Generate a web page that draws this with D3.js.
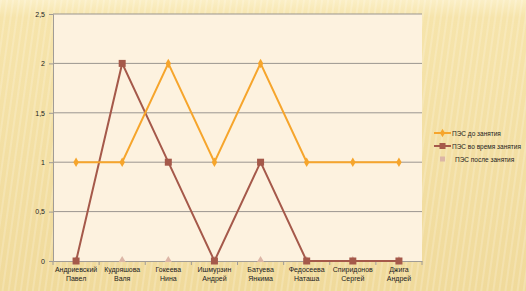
<!DOCTYPE html>
<html>
<head>
<meta charset="utf-8">
<script src="https://cdn.jsdelivr.net/npm/d3@7"></script>
<style>
  body { margin: 0; }
  svg { display: block; }
</style>
</head>
<body>
<svg id="canvas"></svg>
<script>
// chart data
const names = [
  ["Андриевский", "Павел"], ["Кудряшова", "Валя"], ["Гокеева", "Нина"],
  ["Ишмурзин", "Андрей"], ["Батуева", "Янкима"], ["Федосеева", "Наташа"],
  ["Спиридонов", "Сергей"], ["Джига", "Андрей"]
]
const before = [1, 1, 2, 1, 2, 1, 1, 1]
const during = [0, 2, 1, 0, 1, 0, 0, 0]
const after = [0, 0, 0, 0, 0, 0, 0, 0]
const yTicks = [0, 0.5, 1, 1.5, 2, 2.5]
const seriesNames = ["ПЭС до занятия", "ПЭС во время занятия", "ПЭС после занятия"]

const width = 526
const height = 291
const plot = { left: 53, right: 422, top: 14, bottom: 261 }

let canvas = d3.select("#canvas")
    .attr('width', width)
    .attr('height', height)
    .style('font-family', 'Liberation Sans, Arial, sans-serif')

// background
let defs = canvas.append('defs')
let bg = defs.append('linearGradient').attr('id', 'bg')
    .attr('x1', 0).attr('y1', 0).attr('x2', 0).attr('y2', 1)
bg.append('stop').attr('offset', 0).attr('stop-color', '#fbefc6')
bg.append('stop').attr('offset', 0.06).attr('stop-color', '#f6e4ab')
bg.append('stop').attr('offset', 1).attr('stop-color', '#f0da9b')
let stripes = defs.append('pattern').attr('id', 'stripes')
    .attr('width', 6).attr('height', 6).attr('patternUnits', 'userSpaceOnUse')
    .attr('patternTransform', 'rotate(8)')
stripes.append('rect').attr('width', 2).attr('height', 6).attr('fill', '#ffffff').attr('opacity', 0.18)

canvas.append('rect').attr('width', width).attr('height', height).attr('fill', 'url(#bg)')
canvas.append('rect').attr('width', width).attr('height', height).attr('fill', 'url(#stripes)')

canvas.append('rect')
    .attr('x', plot.left).attr('y', plot.top)
    .attr('width', plot.right - plot.left).attr('height', plot.bottom - plot.top)
    .attr('fill', '#fdf2df')

let xScale = d3.scaleBand()
    .domain(d3.range(names.length))
    .range([plot.left, plot.right])
let yScale = d3.scaleLinear()
    .domain([0, 2.5])
    .range([plot.bottom, plot.top])

// grid
canvas.append('g')
    .selectAll('line')
    .data(yTicks.filter(d => d > 0))
    .enter()
    .append('line')
    .attr('x1', plot.left).attr('x2', plot.right)
    .attr('y1', d => yScale(d)).attr('y2', d => yScale(d))
    .attr('stroke', '#9b9690').attr('stroke-width', 1)

// axes
let yAxis = d3.axisLeft(yScale)
    .tickValues(yTicks)
    .tickSize(4)
    .tickFormat(d => String(d).replace('.', ','))
let yg = canvas.append('g')
    .attr('transform', `translate(${plot.left}, 0)`)
    .call(yAxis)
yg.select('.domain').attr('stroke', '#a19c96')
yg.selectAll('.tick line').attr('stroke', '#a19c96')
yg.selectAll('text').attr('font-size', 7).attr('fill', '#222').attr('x', -8)

let xAxis = d3.axisBottom(xScale).tickSize(0).tickFormat('')
let xg = canvas.append('g')
    .attr('transform', `translate(0, ${plot.bottom})`)
    .call(xAxis)
xg.select('.domain').attr('stroke', '#a19c96')
xg.selectAll('.sep')
    .data(d3.range(names.length + 1))
    .enter()
    .append('line')
    .attr('x1', i => plot.left + i * xScale.step())
    .attr('x2', i => plot.left + i * xScale.step())
    .attr('y1', 0).attr('y2', 4)
    .attr('stroke', '#a19c96')

let labels = canvas.append('g')
    .selectAll('text')
    .data(names)
    .enter()
    .append('text')
    .attr('text-anchor', 'middle')
    .attr('font-size', 7)
    .attr('fill', '#222')
    .attr('transform', (d, i) => `translate(${xScale(i) + xScale.bandwidth() / 2}, ${plot.bottom + 11})`)
labels.append('tspan').attr('x', 0).attr('y', 0).text(d => d[0])
labels.append('tspan').attr('x', 0).attr('y', 9).text(d => d[1])

let cx = i => xScale(i) + xScale.bandwidth() / 2
let line = d3.line().x((d, i) => cx(i)).y(d => yScale(d))

// series 3 markers (no line)
canvas.append('g')
    .selectAll('path')
    .data(after)
    .enter()
    .append('path')
    .attr('d', d3.symbol(d3.symbolTriangle, 22))
    .attr('transform', (d, i) => `translate(${cx(i)}, ${yScale(d) - 1})`)
    .attr('fill', '#dcb6a6')

// series 2
canvas.append('path')
    .datum(during)
    .attr('d', line)
    .attr('fill', 'none')
    .attr('stroke', '#a5594a')
    .attr('stroke-width', 2)
canvas.append('g')
    .selectAll('rect')
    .data(during)
    .enter()
    .append('rect')
    .attr('x', (d, i) => cx(i) - 3.5)
    .attr('y', d => yScale(d) - 3.5)
    .attr('width', 7).attr('height', 7)
    .attr('fill', '#a5594a')

// series 1
canvas.append('path')
    .datum(before)
    .attr('d', line)
    .attr('fill', 'none')
    .attr('stroke', '#f6a52c')
    .attr('stroke-width', 2)
canvas.append('g')
    .selectAll('path')
    .data(before)
    .enter()
    .append('path')
    .attr('d', d3.symbol(d3.symbolDiamond, 26))
    .attr('transform', (d, i) => `translate(${cx(i)}, ${yScale(d)})`)
    .attr('fill', '#f6a52c')

// legend
let legend = canvas.append('g').attr('transform', 'translate(434, 133)')
let items = legend.selectAll('g')
    .data(seriesNames)
    .enter()
    .append('g')
    .attr('transform', (d, i) => `translate(0, ${i * 13})`)
items.filter((d, i) => i < 2)
    .append('line')
    .attr('x1', 0).attr('x2', 17)
    .attr('stroke', (d, i) => i == 0 ? '#f6a52c' : '#a5594a')
    .attr('stroke-width', 2)
items.filter((d, i) => i == 0)
    .append('path')
    .attr('d', d3.symbol(d3.symbolDiamond, 22))
    .attr('transform', 'translate(8.5, 0)')
    .attr('fill', '#f6a52c')
items.filter((d, i) => i == 1)
    .append('rect')
    .attr('x', 5.5).attr('y', -3).attr('width', 6).attr('height', 6)
    .attr('fill', '#a5594a')
items.filter((d, i) => i == 2)
    .append('rect')
    .attr('x', 6).attr('y', -2.5).attr('width', 5).attr('height', 5)
    .attr('fill', '#dcb6a6')
items.append('text')
    .attr('x', (d, i) => i == 2 ? 21 : 18)
    .attr('y', 2.5)
    .attr('font-size', 6.5)
    .attr('fill', '#222')
    .text(d => d)
</script>
</body>
</html>
